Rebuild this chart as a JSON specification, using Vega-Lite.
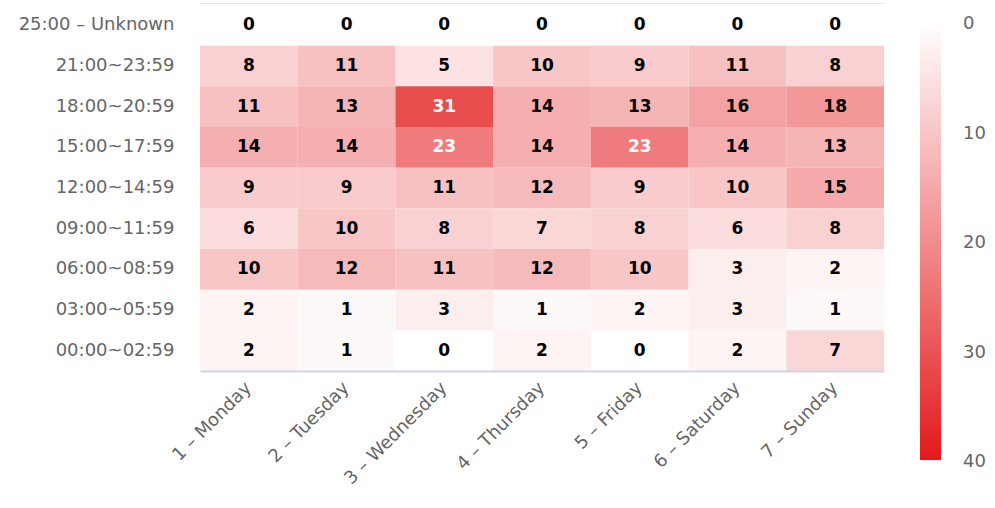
{
  "$schema": "https://vega.github.io/schema/vega-lite/v6.json",
  "autosize": {"type": "none"},
  "padding": {"left": 200, "top": 5, "right": 111, "bottom": 137},
  "width": 684,
  "height": 366,
  "background": "#ffffff",
  "config": {"view": {"stroke": null}, "font": "DejaVu Sans"},
  "data": {"values": [
    {"day": "1 – Monday", "slot": "25:00 – Unknown", "v": 0},
    {"day": "2 – Tuesday", "slot": "25:00 – Unknown", "v": 0},
    {"day": "3 – Wednesday", "slot": "25:00 – Unknown", "v": 0},
    {"day": "4 – Thursday", "slot": "25:00 – Unknown", "v": 0},
    {"day": "5 – Friday", "slot": "25:00 – Unknown", "v": 0},
    {"day": "6 – Saturday", "slot": "25:00 – Unknown", "v": 0},
    {"day": "7 – Sunday", "slot": "25:00 – Unknown", "v": 0},
    {"day": "1 – Monday", "slot": "21:00~23:59", "v": 8},
    {"day": "2 – Tuesday", "slot": "21:00~23:59", "v": 11},
    {"day": "3 – Wednesday", "slot": "21:00~23:59", "v": 5},
    {"day": "4 – Thursday", "slot": "21:00~23:59", "v": 10},
    {"day": "5 – Friday", "slot": "21:00~23:59", "v": 9},
    {"day": "6 – Saturday", "slot": "21:00~23:59", "v": 11},
    {"day": "7 – Sunday", "slot": "21:00~23:59", "v": 8},
    {"day": "1 – Monday", "slot": "18:00~20:59", "v": 11},
    {"day": "2 – Tuesday", "slot": "18:00~20:59", "v": 13},
    {"day": "3 – Wednesday", "slot": "18:00~20:59", "v": 31},
    {"day": "4 – Thursday", "slot": "18:00~20:59", "v": 14},
    {"day": "5 – Friday", "slot": "18:00~20:59", "v": 13},
    {"day": "6 – Saturday", "slot": "18:00~20:59", "v": 16},
    {"day": "7 – Sunday", "slot": "18:00~20:59", "v": 18},
    {"day": "1 – Monday", "slot": "15:00~17:59", "v": 14},
    {"day": "2 – Tuesday", "slot": "15:00~17:59", "v": 14},
    {"day": "3 – Wednesday", "slot": "15:00~17:59", "v": 23},
    {"day": "4 – Thursday", "slot": "15:00~17:59", "v": 14},
    {"day": "5 – Friday", "slot": "15:00~17:59", "v": 23},
    {"day": "6 – Saturday", "slot": "15:00~17:59", "v": 14},
    {"day": "7 – Sunday", "slot": "15:00~17:59", "v": 13},
    {"day": "1 – Monday", "slot": "12:00~14:59", "v": 9},
    {"day": "2 – Tuesday", "slot": "12:00~14:59", "v": 9},
    {"day": "3 – Wednesday", "slot": "12:00~14:59", "v": 11},
    {"day": "4 – Thursday", "slot": "12:00~14:59", "v": 12},
    {"day": "5 – Friday", "slot": "12:00~14:59", "v": 9},
    {"day": "6 – Saturday", "slot": "12:00~14:59", "v": 10},
    {"day": "7 – Sunday", "slot": "12:00~14:59", "v": 15},
    {"day": "1 – Monday", "slot": "09:00~11:59", "v": 6},
    {"day": "2 – Tuesday", "slot": "09:00~11:59", "v": 10},
    {"day": "3 – Wednesday", "slot": "09:00~11:59", "v": 8},
    {"day": "4 – Thursday", "slot": "09:00~11:59", "v": 7},
    {"day": "5 – Friday", "slot": "09:00~11:59", "v": 8},
    {"day": "6 – Saturday", "slot": "09:00~11:59", "v": 6},
    {"day": "7 – Sunday", "slot": "09:00~11:59", "v": 8},
    {"day": "1 – Monday", "slot": "06:00~08:59", "v": 10},
    {"day": "2 – Tuesday", "slot": "06:00~08:59", "v": 12},
    {"day": "3 – Wednesday", "slot": "06:00~08:59", "v": 11},
    {"day": "4 – Thursday", "slot": "06:00~08:59", "v": 12},
    {"day": "5 – Friday", "slot": "06:00~08:59", "v": 10},
    {"day": "6 – Saturday", "slot": "06:00~08:59", "v": 3},
    {"day": "7 – Sunday", "slot": "06:00~08:59", "v": 2},
    {"day": "1 – Monday", "slot": "03:00~05:59", "v": 2},
    {"day": "2 – Tuesday", "slot": "03:00~05:59", "v": 1},
    {"day": "3 – Wednesday", "slot": "03:00~05:59", "v": 3},
    {"day": "4 – Thursday", "slot": "03:00~05:59", "v": 1},
    {"day": "5 – Friday", "slot": "03:00~05:59", "v": 2},
    {"day": "6 – Saturday", "slot": "03:00~05:59", "v": 3},
    {"day": "7 – Sunday", "slot": "03:00~05:59", "v": 1},
    {"day": "1 – Monday", "slot": "00:00~02:59", "v": 2},
    {"day": "2 – Tuesday", "slot": "00:00~02:59", "v": 1},
    {"day": "3 – Wednesday", "slot": "00:00~02:59", "v": 0},
    {"day": "4 – Thursday", "slot": "00:00~02:59", "v": 2},
    {"day": "5 – Friday", "slot": "00:00~02:59", "v": 0},
    {"day": "6 – Saturday", "slot": "00:00~02:59", "v": 2},
    {"day": "7 – Sunday", "slot": "00:00~02:59", "v": 7}
  ]},
  "encoding": {
    "x": {"field": "day", "type": "nominal", "sort": null, "title": null,
      "scale": {"paddingInner": 0, "paddingOuter": 0},
      "axis": {"labelAngle": -45, "labelAlign": "right", "labelBaseline": "middle", "labelColor": "#666666", "labelFontSize": 18, "ticks": false, "domainColor": "#ccd6eb", "domainWidth": 2, "labelPadding": 14, "grid": false}},
    "y": {"field": "slot", "type": "nominal", "sort": ["25:00 – Unknown", "21:00~23:59", "18:00~20:59", "15:00~17:59", "12:00~14:59", "09:00~11:59", "06:00~08:59", "03:00~05:59", "00:00~02:59"], "title": null,
      "scale": {"paddingInner": 0, "paddingOuter": 0},
      "axis": {"labelColor": "#666666", "labelFontSize": 18, "ticks": false, "domain": false, "labelPadding": 26, "grid": false}}
  },
  "layer": [
    {
      "mark": {"type": "rect"},
      "encoding": {
        "color": {"field": "v", "type": "quantitative", "title": null,
          "scale": {"domain": [40, 0], "range": ["#e31a1c", "#ffffff"], "interpolate": "rgb"},
          "legend": {"orient": "none", "legendX": 720, "legendY": 17, "direction": "vertical", "gradientLength": 438, "gradientThickness": 21, "values": [0, 10, 20, 30, 40], "labelColor": "#666666", "labelFontSize": 18, "labelOffset": 22, "gradientStrokeWidth": 0,
            "encode": {"labels": {"update": {"baseline": {"value": "middle"}, "dy": {"value": 2}}}}}}
      }
    },
    {
      "mark": {"type": "text", "fontWeight": "bold", "fontSize": 17},
      "encoding": {
        "text": {"field": "v", "type": "quantitative"},
        "color": {"condition": {"test": "datum.v > 20", "value": "#ffffff"}, "value": "#000000"}
      }
    },
    {
      "mark": {"type": "rule", "color": "#e6e6e6", "strokeWidth": 1, "yOffset": -1.5},
      "encoding": {
        "y": {"datum": "25:00 – Unknown", "bandPosition": 0},
        "x": {"value": 0},
        "x2": {"value": 684}
      }
    }
  ]
}
